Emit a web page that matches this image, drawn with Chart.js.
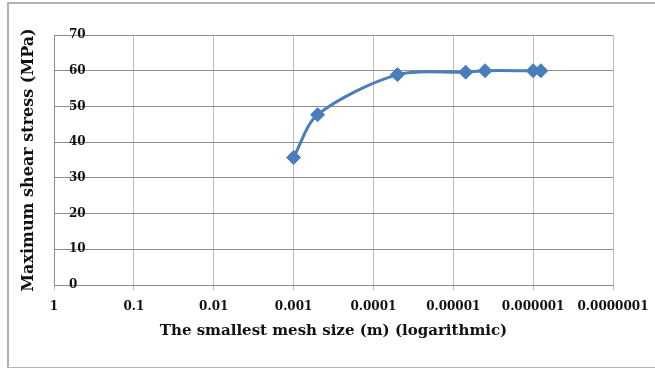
<!DOCTYPE html>
<html lang="en">
<head>
    <meta charset="UTF-8">
    <title>Maximum shear stress vs mesh size</title>
    <script src="https://cdn.jsdelivr.net/npm/chart.js"></script>
    <style>
        body { margin: 0; background: #fff; }
        #wrap { position: relative; width: 655px; height: 368px; overflow: hidden; }
        #frame { position: absolute; left: 7px; top: 2px; width: 700px; height: 363px;
                 border: 2px solid #b3b3b3; pointer-events: none; }
        canvas { position: absolute; left: 0; top: 0; }
    </style>
</head>
<body>
<div id="wrap">
    <canvas id="meshChart" width="655" height="368"></canvas>
    <div id="frame"></div>
</div>
<script>
    // mesh size (m) and max shear stress (MPa)
    const meshSize = [0.001, 0.0005, 0.00005, 0.000007, 0.000004, 0.000001, 0.0000008];
    const shearStress = [35.7, 47.7, 58.9, 59.6, 60.0, 60.0, 60.0];

    const xTickValues = [1, 0.1, 0.01, 0.001, 0.0001, 0.00001, 0.000001, 0.0000001];
    const xTickLabels = ["1", "0.1", "0.01", "0.001", "0.0001", "0.00001", "0.000001", "0.0000001"];

    const serif = "'DejaVu Serif', 'Liberation Serif', serif";
    const blue = "#4a7ebb";

    const points = meshSize.map((m, i) => ({ x: m, y: shearStress[i] }));

    const ctx = document.getElementById("meshChart").getContext("2d");
    new Chart(ctx, {
        type: "scatter",
        data: {
            datasets: [{
                data: points,
                showLine: true,
                borderColor: blue,
                borderWidth: 3,
                tension: 0.3,
                pointStyle: "rectRot",
                pointRadius: 7,
                pointBackgroundColor: blue,
                pointBorderColor: blue,
                pointBorderWidth: 1
            }]
        },
        options: {
            responsive: false,
            animation: false,
            layout: { padding: { top: 35, right: 42, left: 0, bottom: 0 } },
            plugins: { legend: { display: false }, tooltip: { enabled: false } },
            scales: {
                x: {
                    type: "logarithmic",
                    reverse: true,
                    min: 0.0000001,
                    max: 1,
                    afterBuildTicks: axis => { axis.ticks = xTickValues.map(v => ({ value: v })); },
                    afterFit: axis => {
                        axis.height = 83;
                        axis.paddingLeft = 0;
                        axis.paddingRight = 0;
                    },
                    grid: { color: "#bdbdbd", tickLength: 5, tickColor: "#bdbdbd" },
                    border: { color: "#8a8a8a", width: 1 },
                    ticks: {
                        autoSkip: false,
                        maxRotation: 0,
                        padding: 10,
                        color: "#111",
                        font: { family: serif, size: 12, weight: "bold" },
                        callback: (v, i) => xTickLabels[i]
                    },
                    title: {
                        display: true,
                        text: "The smallest mesh size (m) (logarithmic)",
                        color: "#111",
                        padding: { top: 0, bottom: 28 },
                        font: { family: serif, size: 15, weight: "bold" }
                    }
                },
                y: {
                    min: 0,
                    max: 70,
                    afterFit: axis => { axis.width = 54; },
                    grid: { color: "#8c8c8c", drawTicks: false },
                    border: { color: "#8c8c8c", width: 1 },
                    ticks: {
                        stepSize: 10,
                        mirror: true,
                        padding: 15,
                        color: "#111",
                        font: { family: serif, size: 12, weight: "bold" }
                    },
                    title: {
                        display: true,
                        text: "Maximum shear stress (MPa)",
                        color: "#111",
                        padding: { top: 19, bottom: 0 },
                        font: { family: serif, size: 16, weight: "bold" }
                    }
                }
            }
        }
    });
</script>
</body>
</html>
